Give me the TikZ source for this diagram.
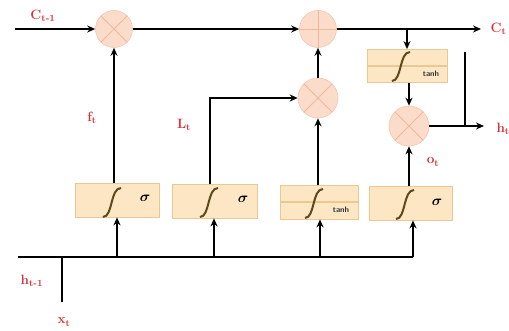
\documentclass[tikz,border=0pt]{standalone}
\usepackage{amsmath}
\usetikzlibrary{arrows.meta,calc}
\definecolor{lbl}{HTML}{D8323A}
\definecolor{gatefill}{HTML}{FCE6C4}
\definecolor{gateedge}{HTML}{E9C992}
\definecolor{opfill}{HTML}{FBDCCB}
\definecolor{opedge}{HTML}{F3C6B0}
\definecolor{opmark}{HTML}{EFB79D}
\definecolor{curve}{HTML}{5B4A1C}
\begin{document}
\begin{tikzpicture}[x=1pt,y=-1pt,
  wire/.style={line width=2.6pt,black},
  arr/.style={wire,-{Stealth[length=8pt,width=7pt]}},
  gatebox/.style={draw=gateedge,fill=gatefill,line width=0.8pt,minimum height=34pt,inner sep=0pt},
  opcirc/.style={circle,draw=opedge,fill=opfill,line width=0.6pt,minimum size=#1,inner sep=0pt},
  lab/.style={text=lbl,font=\bfseries\fontsize{13.5}{13.5}\selectfont},
  sig/.style={font=\fontsize{15}{15}\selectfont},
  tanhlab/.style={font=\sffamily\bfseries\fontsize{8}{8}\selectfont,text=black!80},
]
\useasboundingbox (0,0) rectangle (509,331);

% sigmoid curve drawn inside a gate
\newcommand{\sigcurve}[1]{%
  \draw[curve,line width=2pt] ($(#1)+(-13,15)$) .. controls ($(#1)+(-3,15)$) and ($(#1)+(-6,-14)$) .. ($(#1)+(5,-14)$);}

% pointwise operators
\node[opcirc=37pt] (mulf) at (114,29) {};
\node[opcirc=37pt] (add) at (318,29) {};
\node[opcirc=40pt] (muli) at (318,98) {};
\node[opcirc=40pt] (mulo) at (409,126) {};
\foreach \n in {mulf,muli,mulo}{
  \draw[opmark,line width=0.8pt] (\n.north east) -- (\n.south west) (\n.north west) -- (\n.south east);}
\draw[opmark,line width=0.8pt] (add.north) -- (add.south) (add.west) -- (add.east);

% gate layers
\node[gatebox,minimum width=84pt] (gf) at (117,200) {};
\node[gatebox,minimum width=85pt] (gi) at (215,201) {};
\node[gatebox,minimum width=78pt] (gc) at (319,202) {};
\node[gatebox,minimum width=83pt] (go) at (411,203) {};
\node[gatebox,minimum width=80pt,minimum height=33pt] (gt) at (407,66) {};
\draw[gateedge,line width=1.6pt] (gc.west) -- (gc.east);
\draw[gateedge,line width=1.6pt] (gt.west) -- (gt.east);

\coordinate (cf) at (116,202);
\coordinate (ci) at (213,202);
\coordinate (cc) at (318,203);
\coordinate (co) at (409,204);
\coordinate (ct) at (405,66);
\foreach \c in {cf,ci,cc,co,ct}{\sigcurve{\c}}
\node[sig] (sf) at (145,198) {$\boldsymbol\sigma$};
\node[sig] (si) at (243,199) {$\boldsymbol\sigma$};
\node[sig] (so) at (437,202) {$\boldsymbol\sigma$};
\node[tanhlab] (tc) at (341,210) {tanh};
\node[tanhlab] (tt) at (431,74) {tanh};

% cell state path
\coordinate (cin) at (15,29);
\coordinate (cout) at (481,29);
\draw[arr] (cin) -- (mulf.west);
\draw[arr] (mulf.east) -- (add.west);
\draw[arr] (add.east) -- (cout);
\draw[arr] (gt.north |- add) -- (gt.north);
\draw[arr] (gt.south -| mulo) -- (mulo.north);

% hidden output
\coordinate (hout) at (484,126);
\coordinate (htop) at (465,52);
\coordinate (hj) at (465,126);
\draw[arr] (mulo.east) -- (hout);
\draw[wire] (htop) -- (hj);

% gate outputs
\draw[arr] (gf.north -| mulf) -- (mulf.south);
\draw[arr] ([xshift=-5pt]gi.north) |- (muli.west);
\draw[arr] (gc.north -| muli) -- (muli.south);
\draw[arr] (muli.north) -- (add.south);
\draw[arr] (go.north -| mulo) -- (mulo.south);

% input bus
\coordinate (hin) at (18,257);
\coordinate (bend) at (413,257);
\coordinate (xj) at (62,257);
\coordinate (xin) at (62,302);
\draw[wire] (hin) -- (bend);
\draw[wire] (xj) -- (xin);
\foreach \g/\x in {gf/117,gi/214,gc/320}{
  \draw[arr] (\x,257) -- (\x,0 |- \g.south);}
\draw[arr] (bend) -- (bend |- go.south);

% labels
\node[lab] (lc0) at (43,16) {C\textsubscript{t-1}};
\node[lab,anchor=west] (lc1) at (487,29) {C\textsubscript{t}};
\node[lab,anchor=west] (lh) at (493,129) {h\textsubscript{t}};
\node[lab] (lf) at (92,118) {f\textsubscript{t}};
\node[lab] (li) at (184,125) {L\textsubscript{t}};
\node[lab] (lo) at (433,162) {o\textsubscript{t}};
\node[lab] (lhp) at (32,281) {h\textsubscript{t-1}};
\node[lab] (lx) at (64,322) {x\textsubscript{t}};
\end{tikzpicture}
\end{document}
